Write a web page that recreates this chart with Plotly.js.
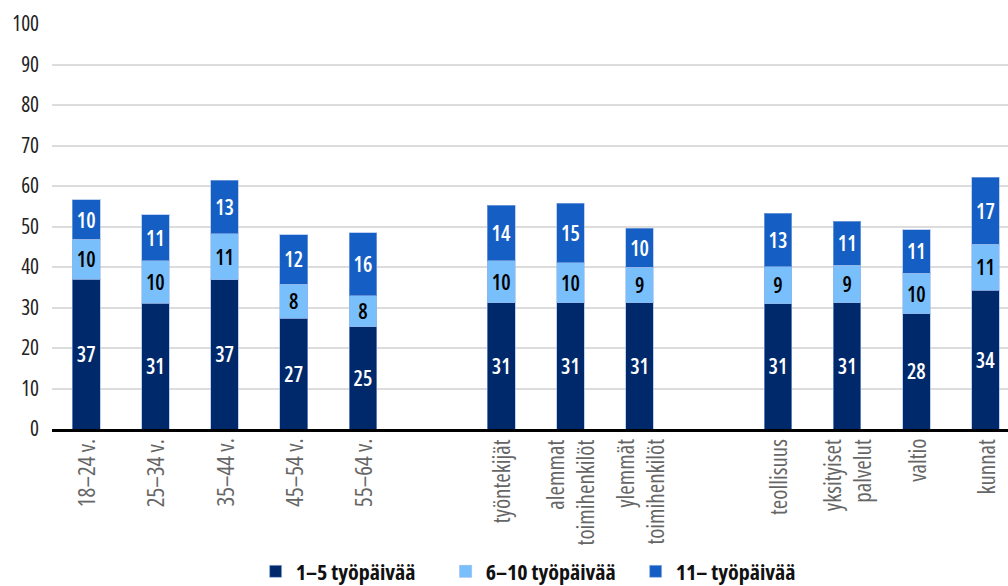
<!DOCTYPE html>
<html>
<head>
<meta charset="utf-8">
<script src="https://cdn.plot.ly/plotly-3.0.1.min.js"></script>
<style>
html,body{margin:0;padding:0;background:#fff;}
#chart{width:1008px;height:586px;}
svg text{font-stretch:condensed !important;}
</style>
</head>
<body>
<div id="chart"></div>
<script>
// Categories (real bars)
const categories = [
  '18–24 v.', '25–34 v.', '35–44 v.', '45–54 v.', '55–64 v.',
  'työntekijät', 'alemmat<br>toimihenkilöt', 'ylemmät<br>toimihenkilöt',
  'teollisuus', 'yksityiset<br>palvelut', 'valtio', 'kunnat'
];
// Axis order including two empty group separators
const categoryOrder = [
  '18–24 v.', '25–34 v.', '35–44 v.', '45–54 v.', '55–64 v.',
  '\u200b',
  'työntekijät', 'alemmat<br>toimihenkilöt', 'ylemmät<br>toimihenkilöt',
  '\u200b\u200b',
  'teollisuus', 'yksityiset<br>palvelut', 'valtio', 'kunnat'
];
const seriesNames = ['1–5 työpäivää', '6–10 työpäivää', '11– työpäivää'];
const days1to5   = [37.0, 31.1, 36.8, 27.4, 25.3, 31.2, 31.2, 31.2, 30.9, 31.2, 28.4, 34.2];
const days6to10  = [ 9.8, 10.4, 11.4,  8.4,  7.6, 10.4,  9.9,  8.8,  9.2,  9.2, 10.1, 11.4];
const days11plus = [ 9.8, 11.4, 13.2, 12.2, 15.6, 13.7, 14.6,  9.6, 13.2, 10.9, 10.7, 16.6];
const yTicks = [0, 10, 20, 30, 40, 50, 60, 70, 80, 90, 100];

const FONT = '"Open Sans", "Roboto Condensed", sans-serif';
const colors = ['#00296b', '#78bffc', '#155ec3'];
const textColors = ['#ffffff', '#000000', '#ffffff'];
const seriesValues = [days1to5, days6to10, days11plus];

const traces = seriesValues.map((vals, i) => ({
  type: 'bar',
  name: seriesNames[i],
  x: categories,
  y: vals,
  width: 0.4,
  marker: {color: colors[i], line: {color: 'rgba(150,180,230,0.6)', width: 1}},
  texttemplate: '%{y:.0f}',
  textposition: 'inside',
  insidetextanchor: 'middle',
  textangle: 0,
  constraintext: 'none',
  textfont: {family: FONT, size: 21, color: textColors[i], weight: 600},
  hoverinfo: 'x+y+name'
}));

const annotations = categories.map(c => ({
  x: c, xref: 'x',
  y: 0, yref: 'paper',
  yshift: -8,
  xanchor: 'center', yanchor: 'top',
  textangle: -90,
  align: 'right',
  text: c,
  showarrow: false,
  font: {family: FONT, size: 23, color: '#666'}
}));

const layout = {
  width: 1008,
  height: 586,
  barmode: 'stack',
  paper_bgcolor: '#ffffff',
  plot_bgcolor: '#ffffff',
  margin: {l: 52, r: 0, t: 24, b: 157, autoexpand: false},
  font: {family: FONT, size: 20, color: '#222'},
  xaxis: {
    type: 'category',
    categoryorder: 'array',
    categoryarray: categoryOrder,
    range: [-0.494, 13.325],
    showticklabels: false,
    showline: true,
    linecolor: '#000',
    linewidth: 3,
    ticks: '',
    showgrid: false
  },
  yaxis: {
    range: [0, 100],
    tickvals: yTicks,
    ticktext: yTicks.map(String),
    tickfont: {family: FONT, size: 21, color: '#222'},
    showgrid: true,
    gridcolor: '#dcdcdc',
    gridwidth: 2,
    zeroline: false,
    showline: false,
    ticks: '',
    ticklabelstandoff: 12
  },
  annotations: annotations,
  showlegend: true,
  legend: {
    orientation: 'h',
    x: 0.213,
    xanchor: 'left',
    y: -0.352,
    yanchor: 'middle',
    font: {family: FONT, size: 22, color: '#111', weight: 700},
    itemwidth: 30,
    entrywidth: 145,
    traceorder: 'normal'
  },
  bargap: 0
};

Plotly.newPlot('chart', traces, layout, {displayModeBar: false, staticPlot: true});
</script>
</body>
</html>
